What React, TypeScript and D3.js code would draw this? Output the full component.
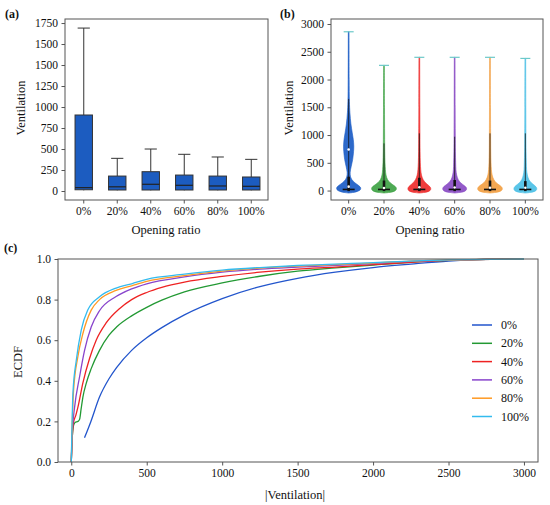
import * as d3 from 'd3';
import { useRef, useEffect } from 'react';

const categories = ["0%", "20%", "40%", "60%", "80%", "100%"];

// (a) box plot values
const whiskerLow = [8, 8, 8, 8, 8, 8];
const boxQ1 = [15, 12, 12, 12, 12, 12];
const boxMedian = [40, 50, 80, 68, 60, 56];
const boxQ3 = [905, 178, 230, 190, 178, 167];
const whiskerHigh = [1940, 389, 500, 437, 405, 377];
const boxTicks = [0, 250, 500, 750, 1000, 1250, 1500, 1750, 2000];
const boxTickLabels = ["0", "250", "500", "750", "1000", "1250", "1500", "1500", "1750"];

// (b) violin outlines: [value, relative half width]
const violin0 = [[-45, 0], [-36, 0.3], [-15, 0.7], [15, 0.93], [50, 0.96], [90, 0.8], [140, 0.5], [200, 0.25], [260, 0.14], [330, 0.12], [430, 0.2], [560, 0.32], [700, 0.39], [800, 0.41], [920, 0.37], [1050, 0.28], [1200, 0.18], [1400, 0.1], [1600, 0.06], [2000, 0.04], [2860, 0.03]];
const violin1 = [[-45, 0], [-36, 0.35], [-15, 0.8], [15, 0.97], [50, 0.98], [90, 0.8], [140, 0.5], [200, 0.28], [280, 0.16], [380, 0.11], [500, 0.08], [700, 0.06], [1000, 0.05], [1500, 0.04], [2255, 0.03]];
const violin2 = [[-45, 0], [-36, 0.33], [-15, 0.75], [15, 0.9], [50, 0.9], [90, 0.75], [140, 0.5], [200, 0.3], [280, 0.17], [380, 0.11], [500, 0.08], [700, 0.06], [1000, 0.05], [1500, 0.04], [2400, 0.03]];
const violin3 = [[-45, 0], [-36, 0.33], [-15, 0.78], [15, 0.94], [50, 0.94], [90, 0.76], [140, 0.48], [200, 0.28], [280, 0.16], [380, 0.1], [500, 0.08], [700, 0.06], [1000, 0.05], [1500, 0.04], [2400, 0.03]];
const violin4 = [[-45, 0], [-36, 0.35], [-15, 0.8], [15, 0.97], [50, 0.97], [90, 0.8], [140, 0.5], [200, 0.3], [280, 0.17], [380, 0.11], [500, 0.08], [700, 0.06], [1000, 0.05], [1500, 0.04], [2400, 0.03]];
const violin5 = [[-45, 0], [-36, 0.33], [-15, 0.75], [15, 0.9], [50, 0.9], [90, 0.75], [140, 0.48], [200, 0.28], [280, 0.16], [380, 0.1], [500, 0.08], [700, 0.06], [1000, 0.05], [1500, 0.04], [2380, 0.03]];
const violins = [violin0, violin1, violin2, violin3, violin4, violin5];
const violinMax = [2860, 2255, 2400, 2400, 2400, 2380];
const violinWhisker = [1650, 850, 1030, 970, 1030, 1030];
const violinBoxTop = [250, 180, 230, 190, 180, 170];
const violinDots = [[70, 740], [45], [60], [55], [50], [50]];
const violinColors = ["#1b5cc6", "#3fa345", "#ee2b2b", "#8a4cc4", "#f2a043", "#4cc0e6"];
const violinTicks = [0, 500, 1000, 1500, 2000, 2500, 3000];

// (c) ECDF points: [|ventilation|, ecdf]
const ecdf0 = [[88, 0.12], [130, 0.2], [187, 0.32], [250, 0.41], [300, 0.465], [400, 0.55], [500, 0.612], [600, 0.662], [750, 0.725], [1000, 0.805], [1250, 0.864], [1500, 0.905], [1750, 0.935], [2000, 0.958], [2250, 0.975], [2500, 0.99], [2750, 0.998], [3000, 1.0]];
const ecdf1 = [[0, 0], [5, 0.1], [15, 0.18], [25, 0.195], [45, 0.2], [55, 0.21], [65, 0.26], [77, 0.32], [100, 0.39], [132, 0.46], [187, 0.55], [250, 0.625], [300, 0.665], [400, 0.72], [500, 0.762], [600, 0.797], [750, 0.838], [1000, 0.882], [1250, 0.915], [1500, 0.94], [1750, 0.956], [2000, 0.97], [2250, 0.984], [2500, 0.993], [2750, 0.998], [3000, 1.0]];
const ecdf2 = [[0, 0], [5, 0.1], [15, 0.195], [30, 0.23], [44, 0.27], [77, 0.39], [121, 0.51], [165, 0.6], [231, 0.685], [319, 0.755], [400, 0.8], [500, 0.835], [600, 0.86], [750, 0.886], [1000, 0.914], [1250, 0.935], [1500, 0.95], [1750, 0.96], [2000, 0.972], [2250, 0.984], [2500, 0.993], [2750, 0.998], [3000, 1.0]];
const ecdf3 = [[0, 0], [4, 0.1], [7, 0.15], [22, 0.27], [55, 0.42], [88, 0.55], [132, 0.665], [187, 0.745], [297, 0.815], [400, 0.853], [500, 0.878], [750, 0.912], [1000, 0.935], [1250, 0.95], [1500, 0.96], [2000, 0.977], [2250, 0.988], [2500, 0.994], [3000, 1.0]];
const ecdf4 = [[0, 0], [5, 0.15], [15, 0.35], [44, 0.52], [77, 0.633], [132, 0.748], [187, 0.8], [297, 0.845], [400, 0.868], [500, 0.89], [750, 0.918], [1000, 0.94], [1250, 0.955], [1500, 0.965], [2000, 0.98], [2250, 0.99], [2500, 0.995], [3000, 1.0]];
const ecdf5 = [[0, 0], [4, 0.15], [11, 0.34], [33, 0.5], [66, 0.65], [110, 0.75], [187, 0.814], [297, 0.857], [400, 0.878], [500, 0.9], [750, 0.925], [1000, 0.945], [1250, 0.958], [1500, 0.968], [2000, 0.982], [2250, 0.99], [2500, 0.996], [3000, 1.0]];
const ecdfs = [ecdf0, ecdf1, ecdf2, ecdf3, ecdf4, ecdf5];
const ecdfColors = ["#2255cc", "#229933", "#ee2222", "#8844cc", "#ff9922", "#33bbee"];
const ecdfXTicks = [0, 500, 1000, 1500, 2000, 2500, 3000];
const ecdfYTicks = [0, 0.2, 0.4, 0.6, 0.8, 1.0];

const FONT = "'Times New Roman', Tinos, 'Liberation Serif', 'Noto Serif', 'DejaVu Serif', serif";
const SPINE = "#555";

const styleAxis = (g: any) => {
	g.attr("font-family", FONT);
	g.select(".domain").remove();
	g.selectAll("line").attr("stroke", SPINE);
	g.selectAll("text").attr("font-family", FONT).attr("font-size", 11.5).attr("fill", "#111");
};

const App = () => {
	const ref: any = useRef();

	useEffect(() => {
		const svg = d3.select(ref.current);
		svg.selectAll("*").remove();

		const label = (x: number, y: number, txt: string, opts: any = {}) => {
			const t = svg.append("text")
				.attr("x", x).attr("y", y)
				.attr("font-family", FONT)
				.attr("font-size", opts.size || 12.5)
				.attr("font-weight", opts.bold ? "bold" : "normal")
				.attr("text-anchor", opts.anchor || "middle")
				.attr("fill", "#111")
				.text(txt);
			if (opts.rotate) t.attr("transform", "rotate(-90," + x + "," + y + ")");
			return t;
		};

		// ---------- (a) box plot ----------
		const aL = 65, aR = 268, aT = 19, aB = 200;
		const xa = d3.scaleBand().domain(categories).range([67, 268]);
		const ya = d3.scaleLinear().domain([-107, 2048]).range([aB, aT]);
		const ga = svg.append("g");
		const bw = xa.bandwidth() * 0.52;
		categories.forEach((c, i) => {
			const cx = (xa(c) || 0) + xa.bandwidth() / 2;
			ga.append("line").attr("x1", cx).attr("x2", cx)
				.attr("y1", ya(boxQ3[i])).attr("y2", ya(whiskerHigh[i]))
				.attr("stroke", "#333").attr("stroke-width", 1);
			ga.append("line").attr("x1", cx).attr("x2", cx)
				.attr("y1", ya(boxQ1[i])).attr("y2", ya(whiskerLow[i]))
				.attr("stroke", "#333").attr("stroke-width", 1);
			ga.append("line").attr("x1", cx - bw * 0.35).attr("x2", cx + bw * 0.35)
				.attr("y1", ya(whiskerHigh[i])).attr("y2", ya(whiskerHigh[i]))
				.attr("stroke", "#333").attr("stroke-width", 1);
			ga.append("rect")
				.attr("x", cx - bw / 2).attr("width", bw)
				.attr("y", ya(boxQ3[i])).attr("height", ya(boxQ1[i]) - ya(boxQ3[i]))
				.attr("fill", "#1c5cc0").attr("stroke", "#333").attr("stroke-width", 1);
			ga.append("line").attr("x1", cx - bw / 2).attr("x2", cx + bw / 2)
				.attr("y1", ya(boxMedian[i])).attr("y2", ya(boxMedian[i]))
				.attr("stroke", "#222").attr("stroke-width", 1.2);
		});
		svg.append("g").attr("transform", "translate(" + aL + ",0)")
			.call(d3.axisLeft(ya).tickValues(boxTicks).tickSize(3.5).tickPadding(3.5)
				.tickFormat((d: any, i: number) => boxTickLabels[i]))
			.call(styleAxis);
		svg.append("g").attr("transform", "translate(0," + aB + ")")
			.call(d3.axisBottom(xa).tickSize(3.5).tickPadding(3.5))
			.call(styleAxis);
		svg.append("rect").attr("x", aL).attr("y", aT).attr("width", aR - aL).attr("height", aB - aT)
			.attr("fill", "none").attr("stroke", SPINE).attr("stroke-width", 1);
		label(166, 234, "Opening ratio");
		label(25, 108, "Ventilation", { rotate: true });
		label(5, 18, "(a)", { bold: true, anchor: "start", size: 12 });

		// ---------- (b) violin plot ----------
		const bL = 331, bR = 543, bT = 19, bB = 200;
		const xb = d3.scaleBand().domain(categories).range([bL, bR]);
		const yb = d3.scaleLinear().domain([-170, 3090]).range([bB, bT]);
		const wb = d3.scaleLinear().domain([0, 1]).range([0, 12.5]);
		const gb = svg.append("g");
		categories.forEach((c, i) => {
			const cx = (xb(c) || 0) + xb.bandwidth() / 2;
			const area = d3.area<any>()
				.y(d => yb(d[0]))
				.x0(d => cx - wb(d[1]))
				.x1(d => cx + wb(d[1]))
				.curve(d3.curveCatmullRom);
			gb.append("path").attr("d", area(violins[i]))
				.attr("fill", violinColors[i]).attr("fill-opacity", 0.92)
				.attr("stroke", violinColors[i]).attr("stroke-width", 0.6);
			// extrema cap
			gb.append("line").attr("x1", cx - 5).attr("x2", cx + 5)
				.attr("y1", yb(violinMax[i])).attr("y2", yb(violinMax[i]))
				.attr("stroke", "#6cc9c9").attr("stroke-width", 1.2);
			// inner box
			gb.append("line").attr("x1", cx).attr("x2", cx)
				.attr("y1", yb(0)).attr("y2", yb(violinWhisker[i]))
				.attr("stroke", "#111").attr("stroke-opacity", 0.75).attr("stroke-width", 1);
			gb.append("line").attr("x1", cx).attr("x2", cx)
				.attr("y1", yb(-10)).attr("y2", yb(violinBoxTop[i]))
				.attr("stroke", "#111").attr("stroke-width", 2.6);
			gb.append("line").attr("x1", cx - 6).attr("x2", cx + 6)
				.attr("y1", yb(20)).attr("y2", yb(20))
				.attr("stroke", "#111").attr("stroke-width", 1.6);
			violinDots[i].forEach(v => {
				gb.append("circle").attr("cx", cx).attr("cy", yb(v)).attr("r", 1.3).attr("fill", "white");
			});
		});
		svg.append("g").attr("transform", "translate(" + bL + ",0)")
			.call(d3.axisLeft(yb).tickValues(violinTicks).tickSize(3.5).tickPadding(3.5).tickFormat(d3.format("d")))
			.call(styleAxis);
		svg.append("g").attr("transform", "translate(0," + bB + ")")
			.call(d3.axisBottom(xb).tickSize(3.5).tickPadding(3.5))
			.call(styleAxis);
		svg.append("rect").attr("x", bL).attr("y", bT).attr("width", bR - bL).attr("height", bB - bT)
			.attr("fill", "none").attr("stroke", SPINE).attr("stroke-width", 1);
		label(430, 234, "Opening ratio");
		label(293, 108, "Ventilation", { rotate: true });
		label(280, 18, "(b)", { bold: true, anchor: "start", size: 12 });

		// ---------- (c) ECDF ----------
		const cL = 58, cR = 538, cT = 259, cB = 462;
		const xc = d3.scaleLinear().domain([-88, 3093]).range([cL, cR]);
		const yc = d3.scaleLinear().domain([0, 1]).range([cB, cT]);
		const line = d3.line<any>().x(d => xc(d[0])).y(d => yc(d[1])).curve(d3.curveMonotoneX);
		const gc = svg.append("g");
		ecdfs.forEach((pts, i) => {
			gc.append("path").attr("d", line(pts))
				.attr("fill", "none").attr("stroke", ecdfColors[i]).attr("stroke-width", 1.3);
		});
		svg.append("g").attr("transform", "translate(" + cL + ",0)")
			.call(d3.axisLeft(yc).tickValues(ecdfYTicks).tickSize(3.5).tickPadding(3.5).tickFormat(d3.format(".1f")))
			.call(styleAxis);
		svg.append("g").attr("transform", "translate(0," + cB + ")")
			.call(d3.axisBottom(xc).tickValues(ecdfXTicks).tickSize(3.5).tickPadding(3.5).tickFormat(d3.format("d")))
			.call(styleAxis);
		svg.append("rect").attr("x", cL).attr("y", cT).attr("width", cR - cL).attr("height", cB - cT)
			.attr("fill", "none").attr("stroke", SPINE).attr("stroke-width", 1);

		// legend
		const lg = svg.append("g");
		categories.forEach((c, i) => {
			const ly = 325 + i * 18.3;
			lg.append("line").attr("x1", 472).attr("x2", 492).attr("y1", ly).attr("y2", ly)
				.attr("stroke", ecdfColors[i]).attr("stroke-width", 1.5);
			lg.append("text").attr("x", 501).attr("y", ly + 4)
				.attr("font-family", FONT).attr("font-size", 12).attr("fill", "#111").text(c);
		});

		label(295, 499, "|Ventilation|");
		label(22, 362, "ECDF", { rotate: true });
		label(4, 252, "(c)", { bold: true, anchor: "start", size: 12 });
	}, []);

	return (
		<svg ref={ref} width={550} height={505}
			style={{ position: "absolute", left: 0, top: 0, background: "white" }}>
		</svg>
	);
};

export default App;
